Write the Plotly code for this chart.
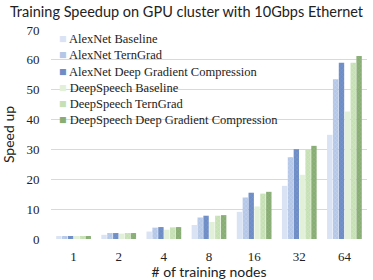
import plotly.graph_objects as go

categories = ["1", "2", "4", "8", "16", "32", "64"]
alexnet_baseline = [1.0, 1.4, 2.5, 4.7, 9.1, 17.8, 34.9]
alexnet_terngrad = [1.0, 2.0, 3.8, 7.2, 13.9, 27.4, 53.5]
alexnet_dgc = [1.0, 2.0, 4.0, 7.8, 15.5, 30.1, 59.0]
deepspeech_baseline = [1.0, 1.8, 3.1, 5.7, 10.9, 21.5, 42.7]
deepspeech_terngrad = [1.0, 2.0, 3.9, 7.8, 15.2, 30.0, 59.0]
deepspeech_dgc = [1.0, 2.0, 4.0, 8.0, 15.8, 31.2, 61.3]
y_ticks = [0, 10, 20, 30, 40, 50, 60, 70]

series = [
    ("AlexNet Baseline", alexnet_baseline, "#dae3f3", None, None),
    ("AlexNet TernGrad", alexnet_terngrad, "#b4c7e7", "x", "#dde6f5"),
    ("AlexNet Deep Gradient Compression", alexnet_dgc, "#6e8dc6", "x", "#8aa5d4"),
    ("DeepSpeech Baseline", deepspeech_baseline, "#e2f0d9", None, None),
    ("DeepSpeech TernGrad", deepspeech_terngrad, "#c5e0b4", "x", "#e4f1db"),
    ("DeepSpeech Deep Gradient Compression", deepspeech_dgc, "#88ad74", "x", "#a6c496"),
]

fig = go.Figure()
for name, vals, color, shape, fg in series:
    marker = dict(color=color, line=dict(width=0))
    if shape:
        marker["pattern"] = dict(shape=shape, fgcolor=fg, size=3, solidity=0.3, fillmode="overlay")
    fig.add_trace(go.Bar(name=name, x=categories, y=vals, marker=marker, showlegend=False))

# legend drawn as a text block built from the series names and colours
legend_lines = [
    f"<span style='color:{color}'>■</span> {name}" for name, _, color, _, _ in series
]
fig.add_annotation(
    text="<br>".join(legend_lines), xref="paper", yref="paper",
    x=0.018, y=1.0, xanchor="left", yanchor="top", align="left", showarrow=False,
    font=dict(family="Liberation Serif", size=12.5, color="#222222"),
)

fig.update_layout(
    width=373, height=280, template="none",
    margin=dict(l=51, r=6, t=30, b=41),
    paper_bgcolor="white", plot_bgcolor="white",
    barmode="group", bargap=0.22, bargroupgap=0.08,
    showlegend=False,
    title=dict(text="Training Speedup on GPU cluster with 10Gbps Ethernet",
               x=0.5, xanchor="center", y=0.957, yanchor="middle",
               font=dict(family="Lato", size=14.5, color="#222222")),
    xaxis=dict(type="category",
               title=dict(text="# of training nodes", font=dict(family="Lato", size=14, color="#222222")),
               tickfont=dict(family="Liberation Serif", size=13, color="#222222"),
               showgrid=False, showline=False, ticks="outside", ticklen=5,
               tickcolor="rgba(0,0,0,0)", automargin=False, zeroline=False),
    yaxis=dict(title=dict(text="Speed up", font=dict(family="Lato", size=14, color="#222222")),
               range=[0, 70], tickvals=y_ticks,
               tickfont=dict(family="Liberation Serif", size=13, color="#222222"),
               gridcolor="#d9d9d9", gridwidth=1, zeroline=False, showline=False,
               ticks="outside", ticklen=8, tickcolor="rgba(0,0,0,0)", automargin=False),
)

fig.write_html("out.html", config={"displayModeBar": False},
               post_script="document.body.style.margin='0';")
